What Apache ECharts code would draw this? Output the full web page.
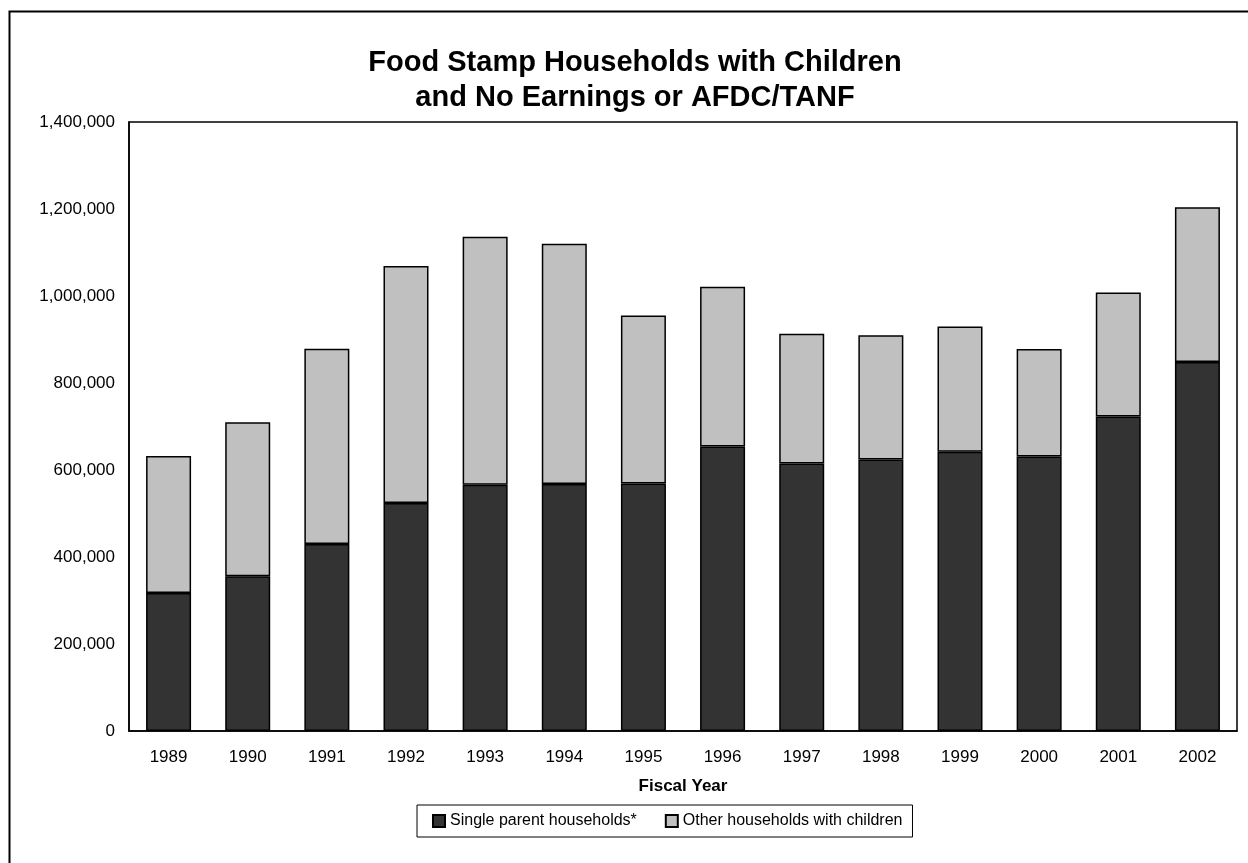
<!DOCTYPE html>
<html>
<head>
<meta charset="utf-8">
<script src="https://cdn.jsdelivr.net/npm/echarts@6/dist/echarts.min.js"></script>
<style>
  html, body { margin: 0; padding: 0; background: #fff; }
  #chart { width: 1248px; height: 863px; }
</style>
</head>
<body>
<div id="chart"></div>
<script>
// Fiscal years on the category axis
const years = ['1989', '1990', '1991', '1992', '1993', '1994', '1995',
               '1996', '1997', '1998', '1999', '2000', '2001', '2002'];

// Food stamp households with children and no earnings or AFDC/TANF
const singleParent = [317000, 356000, 430000, 524000, 566000, 568000, 569000,
                      654000, 615000, 624000, 642000, 631000, 723000, 848000];
const otherWithChildren = [315000, 354000, 449000, 545000, 570000, 552000, 386000,
                           367000, 298000, 286000, 288000, 247000, 285000, 356000];

const seriesNames = ['Single parent households*', 'Other households with children'];
const titleLines = ['Food Stamp Households with Children', 'and No Earnings or AFDC/TANF'];

const FONT = '"Liberation Sans", Arial, sans-serif';
const chart = echarts.init(document.getElementById('chart'), null, { renderer: 'canvas' });

const fmt = v => v.toLocaleString('en-US');

chart.setOption({
  animation: false,
  backgroundColor: '#fff',
  textStyle: { fontFamily: FONT, color: '#000' },
  graphic: [
    {
      type: 'rect',
      silent: true,
      shape: { x: 9.5, y: 11.5, width: 1300, height: 1000 },
      style: { fill: 'none', stroke: '#000', lineWidth: 2 }
    },
    {
      type: 'text',
      silent: true,
      x: 635,
      y: 45,
      style: {
        text: titleLines.join('\n'),
        font: 'bold 29px ' + FONT,
        fill: '#000',
        textAlign: 'center',
        textVerticalAlign: 'top',
        lineHeight: 35
      }
    }
  ],
  legend: {
    left: 417,
    top: 805,
    padding: [8, 10, 8, 15],
    itemGap: 28,
    itemWidth: 12,
    itemHeight: 12,
    borderColor: '#000',
    borderWidth: 1,
    icon: 'rect',
    textStyle: { fontFamily: FONT, fontSize: 16, color: '#000' },
    data: seriesNames
  },
  grid: {
    left: 129,
    right: 11,
    top: 122,
    bottom: 132,
    show: true,
    borderColor: '#000',
    borderWidth: 1.5,
    backgroundColor: '#fff'
  },
  xAxis: {
    type: 'category',
    data: years,
    name: 'Fiscal Year',
    nameLocation: 'middle',
    nameGap: 47,
    nameTextStyle: { fontFamily: FONT, fontSize: 17, fontWeight: 'bold', color: '#000' },
    axisLine: { show: true, lineStyle: { color: '#000', width: 1.5 } },
    axisTick: { show: false },
    axisLabel: { fontFamily: FONT, fontSize: 17, color: '#000', margin: 18 }
  },
  yAxis: {
    type: 'value',
    min: 0,
    max: 1400000,
    interval: 200000,
    axisLine: { show: true, lineStyle: { color: '#000', width: 1.5 } },
    axisTick: { show: false },
    splitLine: { show: false },
    axisLabel: { fontFamily: FONT, fontSize: 17, color: '#000', margin: 14, formatter: fmt }
  },
  series: [
    {
      name: seriesNames[0],
      type: 'bar',
      stack: 'total',
      barWidth: 45,
      data: singleParent,
      itemStyle: { color: '#333333', borderColor: '#000', borderWidth: 1.5 }
    },
    {
      name: seriesNames[1],
      type: 'bar',
      stack: 'total',
      barWidth: 45,
      data: otherWithChildren,
      itemStyle: { color: '#c0c0c0', borderColor: '#000', borderWidth: 1.5 }
    }
  ]
});
</script>
</body>
</html>
